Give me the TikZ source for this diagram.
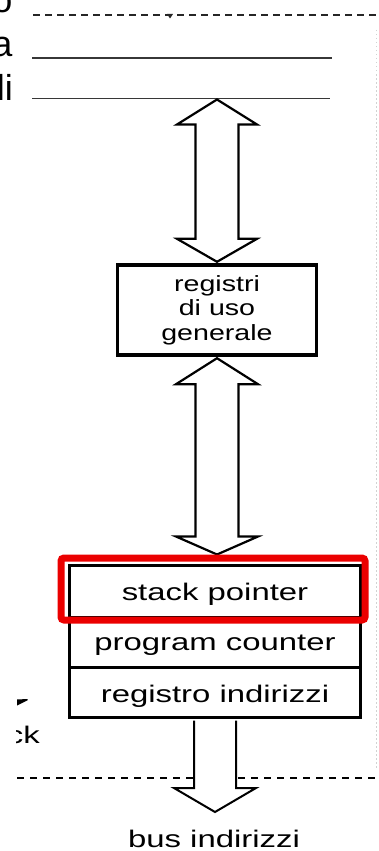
\documentclass[tikz,border=0pt]{standalone}
\usepackage{fontspec}
\setmainfont{Liberation Sans}
\usetikzlibrary{calc}
\newcommand\myWide[2][1.37]{\scalebox{#1}[1]{#2}}
\definecolor{hlred}{RGB}{235,0,0}
\definecolor{lineg}{RGB}{55,55,55}
\begin{document}
\begin{tikzpicture}[x=1pt,y=-1pt,
  regbox/.style={draw=black, line width=3pt, minimum width=291pt, inner sep=0pt,
    font=\fontsize{24}{28}\selectfont, text depth=6pt},
  genbox/.style={draw=black, line width=3.4pt, minimum width=199pt, minimum height=90pt,
    inner sep=0pt, align=center, font=\fontsize{22}{24.5}\selectfont},
  blockarrow/.style={draw=black, line width=2.2pt, fill=white, line join=miter},
  busline/.style={draw=lineg, line width=1.6pt},
  dashline/.style={draw=black, line width=1.8pt, dash pattern=on 7pt off 5pt},
  bigletter/.style={font=\fontsize{36}{40}\selectfont, inner sep=0pt, anchor=base east},
  smalltext/.style={font=\fontsize{24}{28}\selectfont, inner sep=0pt, anchor=base},
  hlbox/.style={draw=hlred, line width=7pt, rounded corners=3pt}
]
\useasboundingbox (0,0) rectangle (379,851);

% faint right border of the scan
\draw[gray!35, line width=0.8pt, dash pattern=on 1.5pt off 2.5pt] (376,30) -- (376,770);

% top-left fragments of overlapping text
\node[bigletter] (lo) at (12.5,12.5) {o};
\node[bigletter] (la) at (12.5,57) {a};
\node[bigletter] (lli) at (13,100) {li};

% top dashed line and bus lines
\coordinate (dA) at (33,15);
\coordinate (dB) at (379,15);
\draw[dashline, line width=1.6pt, draw=black!85] (dA) -- (dB);
\fill[black!85] (167,14) -- (173,14) -- (170,18.5) -- cycle;
\coordinate (l1a) at (32,58);
\coordinate (l1b) at (332,58);
\coordinate (l2a) at (32,98.5);
\coordinate (l2b) at (330,98.5);
\draw[busline] (l1a) -- (l1b);
\draw[busline] (l2a) -- (l2b);
\coordinate (bustop) at (217,99.5);

% general purpose registers
\node[genbox] (gen) at (217,310) {\myWide[1.3]{registri}\\\myWide[1.3]{di uso}\\\myWide[1.3]{generale}};

% register stack
\node[regbox, minimum height=52pt, text height=24pt] (sp) at (215,591) {\myWide{stack pointer}};
\node[regbox, minimum height=50.5pt, text height=21.5pt] (pc) at (215,642.25) {\myWide{program counter}};
\node[regbox, minimum height=50pt, text height=25pt] (ri) at (215,692.5) {\myWide{registro indirizzi}};

% double arrow: bus <-> general registers
\coordinate (a1t) at (bustop);
\coordinate (a1b) at ($(gen.north)+(0,-1.5)$);
\draw[blockarrow] (a1t) -- ($(a1t)+(40,25)$) -- ($(a1t)+(21.5,25)$) -- ($(a1b)+(21.5,-23)$)
  -- ($(a1b)+(40,-23)$) -- (a1b) -- ($(a1b)+(-40,-23)$) -- ($(a1b)+(-21.5,-23)$)
  -- ($(a1t)+(-21.5,25)$) -- ($(a1t)+(-40,25)$) -- cycle;

% double arrow: general registers <-> stack pointer
\coordinate (a2t) at ($(gen.south)+(0,1.5)$);
\coordinate (a2b) at ($(gen.south |- sp.north)+(0,-9)$);
\draw[blockarrow] (a2t) -- ($(a2t)+(41,26)$) -- ($(a2t)+(21.5,26)$) -- ($(a2b)+(21.5,-18)$)
  -- ($(a2b)+(41,-18)$) -- (a2b) -- ($(a2b)+(-41,-18)$) -- ($(a2b)+(-21.5,-18)$)
  -- ($(a2t)+(-21.5,26)$) -- ($(a2t)+(-41,26)$) -- cycle;

% highlight
\draw[hlbox] ($(sp.north west)+(-7,-5.5)$) rectangle ($(sp.south east)+(3,1.5)$);

% left fragments near the bottom
\fill[black] (17,699.5) -- (27.5,699) -- (27.5,700.3) -- (17,705.5) -- cycle;
\begin{scope}
  \clip (16.5,715) rectangle (60,750);
  \node[font=\fontsize{24}{28}\selectfont, inner sep=0pt, anchor=base east] (ck) at (40,743) {\myWide{ck}};
\end{scope}

% bottom dashed line
\coordinate (bdA) at (17,778);
\coordinate (bdB) at (379,778);
\draw[dashline, dash pattern=on 7pt off 6pt, line width=2pt] (bdA) -- (bdB);

% output arrow to address bus
\coordinate (bustip) at (215,812);
\coordinate (a3s) at (ri.south -| bustip);
\fill[white] ($(a3s)+(-21,1.5)$) -- ($(bustip)+(-21,-24)$) -- ($(bustip)+(-41,-24)$) -- (bustip)
  -- ($(bustip)+(41,-24)$) -- ($(bustip)+(21,-24)$) -- ($(a3s)+(21,1.5)$) -- cycle;
\draw[black, line width=2pt, line join=miter] ($(a3s)+(-21,1.5)$) -- ($(bustip)+(-21,-24)$) -- ($(bustip)+(-41,-24)$) -- (bustip)
  -- ($(bustip)+(41,-24)$) -- ($(bustip)+(21,-24)$) -- ($(a3s)+(21,1.5)$);

\node[smalltext] (bus) at (214,847) {\myWide{bus indirizzi}};
\end{tikzpicture}
\end{document}
